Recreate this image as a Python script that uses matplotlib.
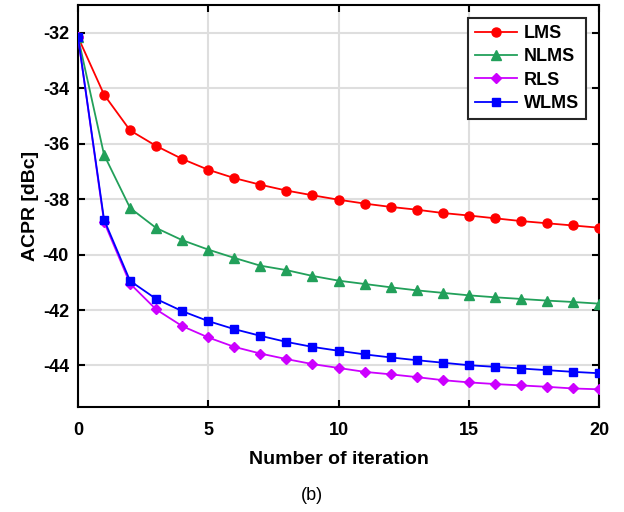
import numpy as np
import matplotlib
matplotlib.use("Agg")
import matplotlib.pyplot as plt

# ---------------------------------------------------------------------------
# Data
# ---------------------------------------------------------------------------
iters = list(range(21))

lms = [-32.15, -34.23, -35.52, -36.08, -36.55, -36.94, -37.24, -37.48, -37.69,
       -37.86, -38.02, -38.16, -38.28, -38.38, -38.50, -38.59, -38.69, -38.79,
       -38.87, -38.95, -39.03]
nlms = [-32.15, -36.40, -38.32, -39.04, -39.48, -39.82, -40.12, -40.40, -40.56,
        -40.77, -40.94, -41.06, -41.18, -41.29, -41.38, -41.47, -41.54, -41.60,
        -41.66, -41.71, -41.77]
rls = [-32.15, -38.82, -41.05, -41.98, -42.58, -42.99, -43.33, -43.57, -43.77,
       -43.95, -44.09, -44.23, -44.32, -44.42, -44.53, -44.61, -44.67, -44.72,
       -44.77, -44.83, -44.86]
wlms = [-32.15, -38.74, -40.95, -41.60, -42.04, -42.40, -42.69, -42.93, -43.15,
        -43.33, -43.47, -43.60, -43.71, -43.81, -43.90, -43.99, -44.05, -44.11,
        -44.17, -44.23, -44.28]

series = [
    ("LMS", lms, "#ff0000", "o"),
    ("NLMS", nlms, "#22a05a", "^"),
    ("RLS", rls, "#cc00ff", "D"),
    ("WLMS", wlms, "#0000ff", "s"),
]

plt.rcParams["font.family"] = ["Liberation Sans", "DejaVu Sans"]
plt.rcParams["axes.unicode_minus"] = False

fig = plt.figure(figsize=(6.24, 5.12), dpi=100)
ax = fig.add_axes([0.125, 0.205, 0.835, 0.785])

ms = {"o": 6.5, "^": 6.5, "D": 5.5, "s": 5.5}
for name, vals, color, marker in series:
    ax.plot(iters, vals, color=color, marker=marker, markersize=ms[marker],
            linewidth=1.3, label=name, zorder=3)

ax.set_xlim(0, 20)
ax.set_ylim(-45.5, -31)
ax.set_xticks([0, 5, 10, 15, 20])
ax.set_yticks([-44, -42, -40, -38, -36, -34, -32])
ax.grid(True, color="#dedede", linewidth=1.5)
ax.set_axisbelow(True)
for sp in ax.spines.values():
    sp.set_linewidth(1.5)
ax.tick_params(direction="in", top=True, right=True, length=5, width=1.5,
               labelsize=13)
ax.tick_params(axis="x", pad=11)
ax.tick_params(axis="y", pad=6.5)
for lab in ax.get_xticklabels() + ax.get_yticklabels():
    lab.set_fontweight("bold")

ax.set_xlabel("Number of iteration", fontsize=14, fontweight="bold", labelpad=8.5)
ax.set_ylabel("ACPR [dBc]", fontsize=14, fontweight="bold", labelpad=3)

leg = ax.legend(loc="upper right", fancybox=False, framealpha=1,
                edgecolor="#262626", prop={"weight": "bold", "size": 13},
                borderpad=0.4, handlelength=2.3, labelspacing=0.35,
                handletextpad=0.4, borderaxespad=0.7)
leg.get_frame().set_linewidth(1.5)

fig.text(0.5, 0.033, "(b)", ha="center", va="center", fontsize=13)

fig.savefig("out.png", dpi=100)
